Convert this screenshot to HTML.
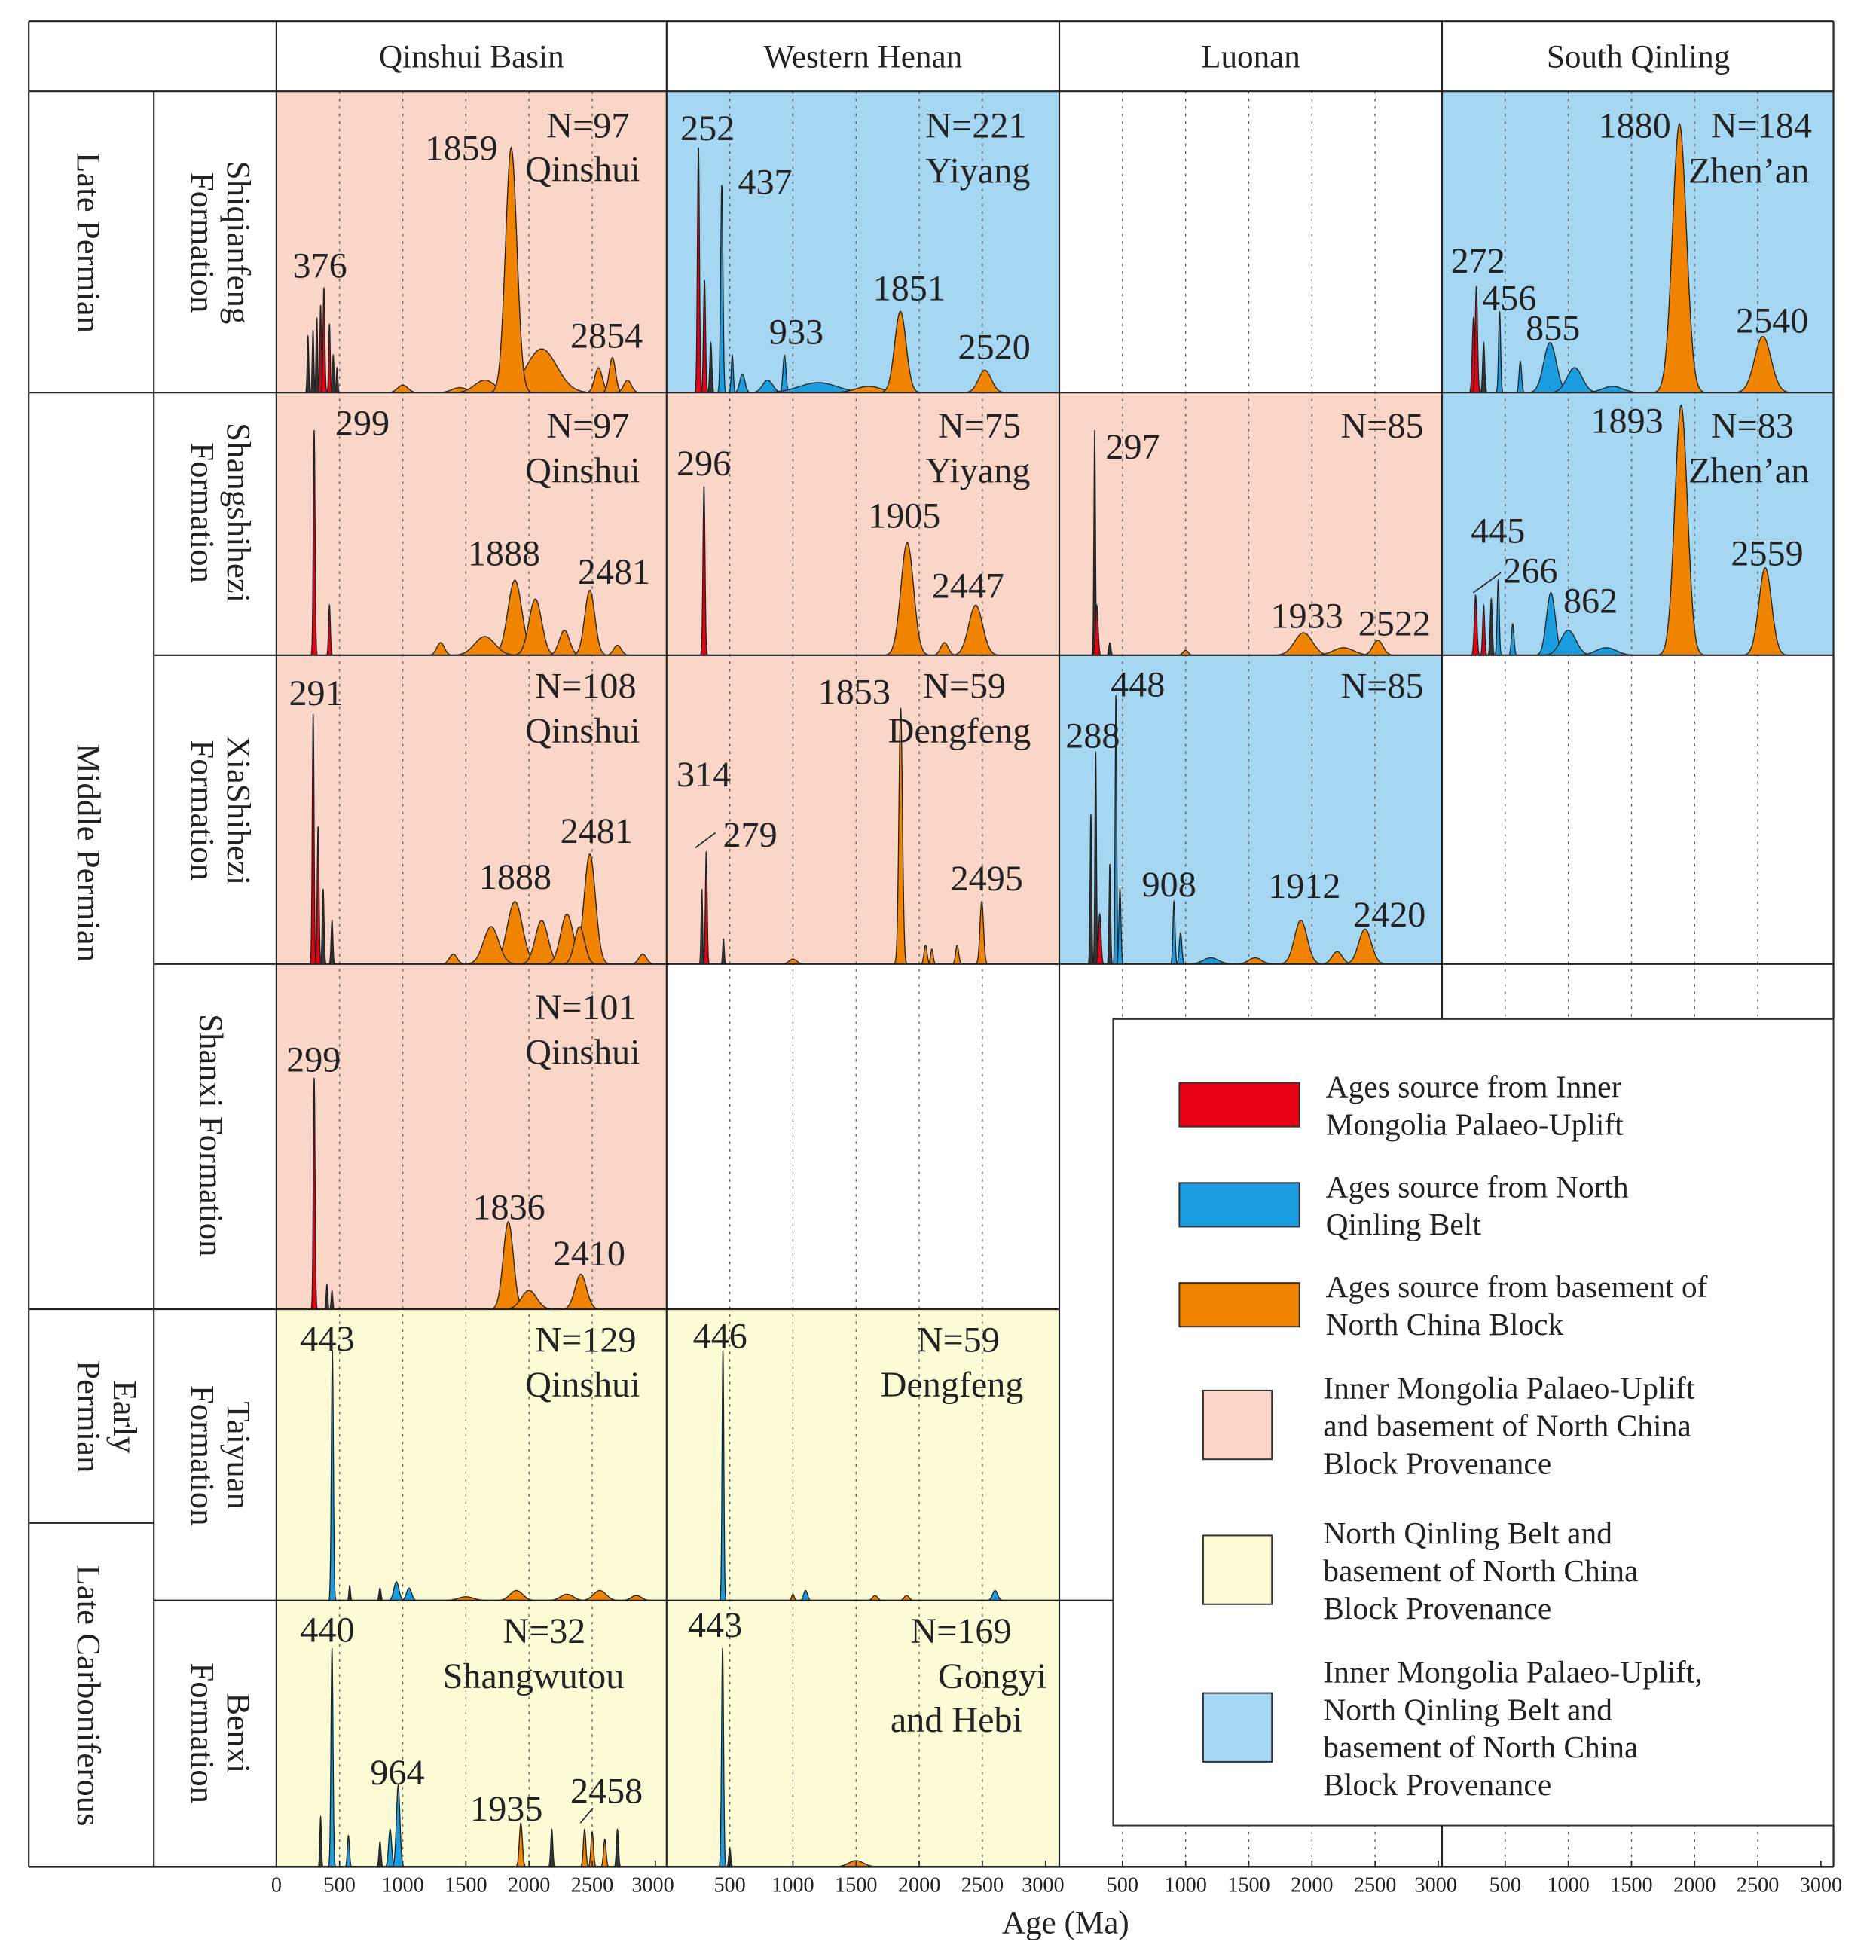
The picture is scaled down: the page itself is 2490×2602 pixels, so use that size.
<!DOCTYPE html>
<html><head><meta charset="utf-8"><style>html,body{margin:0;padding:0;background:#fff}svg{display:block}text{font-family:"Liberation Serif",serif;fill:#222}</style></head>
<body>
<svg id="s" xmlns="http://www.w3.org/2000/svg" width="2490" height="2602" viewBox="0 0 1500 1567.5">
<rect width="1500" height="1567.5" fill="#fff"/>
<g id="bg"></g><g id="grid"></g><g id="peaks"></g><g id="lines"></g><g id="txt"></g>
</svg>
<script>
const NS="http://www.w3.org/2000/svg";
function el(p,t,a,txt){const e=document.createElementNS(NS,t);for(const k in a)e.setAttribute(k,a[k]);if(txt!==undefined)e.textContent=txt;document.getElementById(p).appendChild(e);return e;}
const PK="#f9d6c8",BL="#a5d7f3",YL="#fdfbd6";
const RED="#e60012",BLU="#1a9de0",ORG="#f08300";
const cols=[221,533,847,1153,1466];
const rows=[73,314,524,771,1047,1280,1493];
const bgs=[[PK,BL,null,BL],[PK,PK,PK,BL],[PK,PK,BL,null],[PK,null,null,null],[YL,YL,null,null],[YL,YL,null,null]];
bgs.forEach((r,i)=>r.forEach((c,j)=>{if(c)el("bg","rect",{x:cols[j],y:rows[i],width:cols[j+1]-cols[j],height:rows[i+1]-rows[i],fill:c});}));
for(let j=0;j<4;j++){for(let a=500;a<3000;a+=500){const x=cols[j]+a*0.101;el("grid","line",{x1:x,y1:73,x2:x,y2:1493,stroke:"#555","stroke-width":0.8,"stroke-dasharray":"2,4"});}}
el("lines","rect",{x:890,y:815,width:576,height:645,fill:"#fff",stroke:"#333","stroke-width":1.2});
function panel(j,base,pk){
  const x0=cols[j];
  pk.forEach(p=>{const [age,h,sg,col]=p;let d="";
    const lo=age-4*sg,hi=age+4*sg;
    for(let a=lo;a<=hi;a+=sg/10){const x=x0+a*0.101;const y=base-h*Math.exp(-0.5*((a-age)/sg)**2);d+=(d?"L":"M")+x.toFixed(2)+","+y.toFixed(2);}
    d+="Z";el("peaks","path",{d:d,fill:col,stroke:"#222","stroke-width":0.8});});
}
const K="#333";
panel(0,314,[[250,45,6,K],[290,50,6,K],[320,60,6,K],[350,70,6,RED],[376,84,7,RED],[420,55,6,RED],[450,30,6,K],[480,20,6,K],[1000,6,40,ORG],[1450,4,60,ORG],[1650,10,80,ORG],[2100,35,120,ORG],[1859,196,45,ORG],[2550,20,30,ORG],[2660,28,25,ORG],[2780,10,30,ORG]]);
panel(1,314,[[252,196,8,RED],[300,90,8,RED],[350,40,8,K],[437,166,9,BLU],[520,30,8,BLU],[600,15,20,BLU],[933,30,12,BLU],[800,10,40,BLU],[1200,8,150,BLU],[1600,5,100,ORG],[1851,65,45,ORG],[2520,18,50,ORG]]);
panel(3,314,[[250,60,10,RED],[272,85,9,RED],[330,40,8,K],[456,65,8,BLU],[620,25,10,BLU],[855,40,50,BLU],[1050,20,60,BLU],[1350,5,80,BLU],[1880,215,55,ORG],[2540,45,65,ORG]]);
panel(0,524,[[299,180,7,RED],[420,40,7,RED],[1300,10,30,ORG],[1888,60,55,ORG],[2050,45,50,ORG],[1650,15,80,ORG],[2280,20,40,ORG],[2481,52,40,ORG],[2700,8,30,ORG]]);
panel(1,524,[[296,135,8,RED],[1905,90,50,ORG],[2200,10,30,ORG],[2447,40,55,ORG]]);
panel(2,524,[[280,180,6,K],[297,40,10,RED],[400,10,8,K],[1000,4,20,ORG],[1933,18,70,ORG],[2250,6,80,ORG],[2522,12,40,ORG]]);
panel(3,524,[[266,48,10,RED],[330,40,8,RED],[390,45,8,K],[445,60,8,BLU],[560,25,10,BLU],[862,50,35,BLU],[1000,20,60,BLU],[1300,6,80,BLU],[1893,200,50,ORG],[2559,70,50,ORG]]);
panel(0,771,[[291,200,7,RED],[330,110,7,RED],[370,60,7,K],[440,35,7,K],[1400,8,30,ORG],[1888,50,60,ORG],[1700,30,60,ORG],[2100,35,50,ORG],[2300,40,50,ORG],[2481,88,45,ORG],[2400,30,40,ORG],[2900,8,30,ORG]]);
panel(1,771,[[279,60,6,K],[314,90,7,RED],[450,20,6,K],[1000,4,30,ORG],[1853,205,14,ORG],[2050,15,12,ORG],[2100,12,10,ORG],[2300,15,12,ORG],[2495,50,14,ORG]]);
panel(2,771,[[250,120,6,K],[288,170,6,K],[320,40,10,RED],[400,80,6,K],[448,215,6,BLU],[480,60,8,BLU],[908,50,8,BLU],[960,25,10,BLU],[1200,5,60,BLU],[1550,5,50,ORG],[1912,35,50,ORG],[2200,10,40,ORG],[2420,28,50,ORG]]);
panel(0,1047,[[299,185,7,RED],[400,20,6,K],[440,15,6,K],[1836,70,40,ORG],[2000,15,60,ORG],[2410,28,45,ORG]]);
panel(0,1280,[[443,200,8,BLU],[580,12,6,K],[820,10,8,K],[950,15,20,BLU],[1050,10,20,BLU],[1500,3,60,ORG],[1900,8,50,ORG],[2300,5,50,ORG],[2560,8,50,ORG],[2850,4,40,ORG]]);
panel(1,1280,[[446,200,7,BLU],[1000,5,10,ORG],[1100,8,15,BLU],[1650,4,20,ORG],[1900,4,20,ORG],[2600,8,20,BLU]]);
panel(0,1493,[[350,40,6,K],[440,175,8,BLU],[570,25,8,BLU],[820,20,8,K],[900,30,12,BLU],[964,65,14,BLU],[1935,35,12,ORG],[2180,30,8,K],[2440,30,10,ORG],[2500,28,10,ORG],[2600,22,10,ORG],[2700,30,8,K]]);
panel(1,1493,[[443,175,8,BLU],[500,15,8,K],[1500,5,60,ORG]]);
const L=(x1,y1,x2,y2,w)=>el("lines","line",{x1,y1,x2,y2,stroke:"#222","stroke-width":w||1.3});
L(23,17,1466,17);L(23,17,23,1493);L(1466,17,1466,815);L(1466,1460,1466,1493);
L(23,73,1466,73);L(23,1493,1466,1493,1.6);
L(221,17,221,1493);L(533,17,533,1047);L(533,1047,533,1493);L(847,17,847,1493);
L(1153,17,1153,815);L(1153,1460,1153,1493);L(123,73,123,1493);
L(23,314,1466,314);L(123,524,1466,524);L(123,771,1466,771);L(23,1047,847,1047);
L(123,1280,890,1280);L(23,1218,123,1218);
const lg=[[RED,943,866,35,["Ages source from Inner","Mongolia Palaeo-Uplift"]],[BLU,943,946,35,["Ages source from North","Qinling Belt"]],[ORG,943,1026,35,["Ages source from basement of","North China Block"]],[PK,962,1112,55,["Inner Mongolia Palaeo-Uplift","and basement of North China","Block Provenance"]],[YL,962,1228,55,["North Qinling Belt and","basement of North China","Block Provenance"]],[BL,962,1354,55,["Inner Mongolia Palaeo-Uplift,","North Qinling Belt and","basement of North China","Block Provenance"]]];
lg.forEach(l=>{const w=l[3]==35?96:55;el("lines","rect",{x:l[1],y:l[2],width:w,height:l[3],fill:l[0],stroke:"#333","stroke-width":1.2});
 const tx=l[3]==35?1060:1058;const n=l[4].length;const y0=l[2]+l[3]/2-(n-1)*15+9;
 l[4].forEach((s,i)=>el("txt","text",{x:tx,y:y0+i*30,"font-size":25},s));});
const T=(x,y,s,fs,anc)=>el("txt","text",{x,y,"font-size":fs||30,"text-anchor":anc||"start"},s);
[["Qinshui Basin",377],["Western Henan",690],["Luonan",1000],["South Qinling",1310]].forEach(h=>T(h[1],54,h[0],26,"middle"));
function R(x,y,lines,fs){const n=lines.length;const g=el("txt","g",{transform:`translate(${x},${y}) rotate(90)`});lines.forEach((s,i)=>{const t=document.createElementNS(NS,"text");t.setAttribute("x",0);t.setAttribute("y",-(n-1-i)*29);t.setAttribute("font-size",fs);t.setAttribute("text-anchor","middle");t.textContent=s;g.appendChild(t);});}
R(62,194,["Late Permian"],27);R(62,682,["Middle Permian"],27);R(62,1133,["Early","Permian"],27);R(62,1356,["Late Carboniferous"],27);
R(153,194,["Shiqianfeng","Formation"],27);R(153,410,["Shangshihezi","Formation"],27);R(153,648,["XiaShihezi","Formation"],27);
R(160,908,["Shanxi  Formation"],27);R(153,1164,["Taiyuan","Formation"],27);R(153,1386,["Benxi","Formation"],27);
[[437,110,"N=97"],[420,145,"Qinshui"],[340,128,"1859"],[234,222,"376"],[456,278,"2854"],
[544,112,"252"],[590,155,"437"],[615,275,"933"],[698,240,"1851"],[766,287,"2520"],[740,110,"N=221"],[740,146,"Yiyang"],
[1278,110,"1880"],[1368,110,"N=184"],[1350,146,"Zhen\u2019an"],[1160,218,"272"],[1185,248,"456"],[1220,272,"855"],[1388,266,"2540"],
[268,348,"299"],[437,350,"N=97"],[420,386,"Qinshui"],[374,452,"1888"],[462,467,"2481"],
[541,380,"296"],[750,350,"N=75"],[740,386,"Yiyang"],[694,422,"1905"],[745,478,"2447"],
[884,367,"297"],[1072,350,"N=85"],[1016,502,"1933"],[1086,508,"2522"],
[1272,346,"1893"],[1368,350,"N=83"],[1350,386,"Zhen\u2019an"],[1176,434,"445"],[1202,466,"266"],[1250,490,"862"],[1384,452,"2559"],
[231,564,"291"],[428,558,"N=108"],[420,594,"Qinshui"],[383,711,"1888"],[448,674,"2481"],
[654,563,"1853"],[738,558,"N=59"],[710,594,"Dengfeng"],[541,629,"314"],[578,677,"279"],[760,712,"2495"],
[888,557,"448"],[852,598,"288"],[1072,558,"N=85"],[913,717,"908"],[1014,718,"1912"],[1082,741,"2420"],
[229,857,"299"],[428,815,"N=101"],[420,851,"Qinshui"],[378,975,"1836"],[442,1012,"2410"],
[240,1080,"443"],[428,1081,"N=129"],[420,1117,"Qinshui"],[554,1078,"446"],[733,1081,"N=59"],[704,1117,"Dengfeng"],
[240,1313,"440"],[402,1314,"N=32"],[354,1350,"Shangwutou"],[296,1427,"964"],[376,1456,"1935"],[456,1442,"2458"],
[550,1309,"443"],[728,1314,"N=169"],[750,1350,"Gongyi"],[712,1385,"and Hebi"]].forEach(t=>T(t[0],t[1],t[2],29));
L(1178,474,1200,458,1);L(556,678,572,666,1);L(464,1458,474,1446,1);
const tk=[[221,[0,500,1000,1500,2000,2500,3000]],[533,[500,1000,1500,2000,2500,3000]],[847,[500,1000,1500,2000,2500,3000]],[1153,[500,1000,1500,2000,2500,3000]]];
tk.forEach(p=>p[1].forEach(a=>{const x=p[0]+a*0.101;T(x+(a==3000&&p[0]<1153?-2:0),1513,String(a),17,"middle");L(x,1493,x,1488,1);}));
T(852,1546,"Age (Ma)",26,"middle");
</script>
</body></html>
